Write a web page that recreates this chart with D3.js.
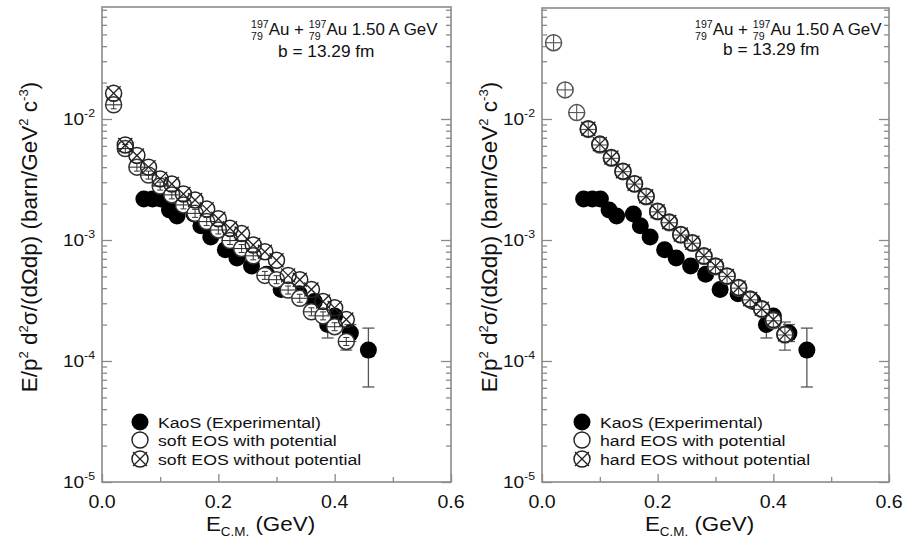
<!DOCTYPE html>
<html><head><meta charset="utf-8">
<script src="https://cdn.jsdelivr.net/npm/d3@7"></script>
<style>
body{margin:0;background:#fff}
svg{display:block}
text{font-family:"Liberation Sans",Arial,Helvetica,sans-serif;fill:#111}
</style>
</head><body>
<svg id="c" width="907" height="540"></svg>
<script>
// ---------------- data ----------------
const expE  = [0.072,0.087,0.101,0.116,0.129,0.158,0.170,0.187,0.212,0.232,0.257,0.283,0.308,0.339,0.365,0.388,0.400,0.427,0.458];
const expV  = [2.18e-3,2.18e-3,2.18e-3,1.77e-3,1.58e-3,1.64e-3,1.31e-3,1.06e-3,8.3e-4,7.1e-4,6.1e-4,5.2e-4,3.9e-4,3.6e-4,3.1e-4,2.0e-4,2.35e-4,1.7e-4,1.23e-4];
const expLo = [2.05e-3,2.05e-3,2.05e-3,1.66e-3,1.48e-3,1.54e-3,1.23e-3,0.99e-3,7.8e-4,6.6e-4,5.7e-4,4.8e-4,3.6e-4,3.3e-4,2.8e-4,1.55e-4,2.1e-4,1.45e-4,6.1e-5];
const expHi = [2.31e-3,2.31e-3,2.31e-3,1.88e-3,1.68e-3,1.74e-3,1.39e-3,1.13e-3,8.8e-4,7.6e-4,6.5e-4,5.6e-4,4.2e-4,3.9e-4,3.4e-4,2.4e-4,2.6e-4,2.0e-4,1.87e-4];

const simE = [0.02,0.04,0.06,0.08,0.10,0.12,0.14,0.16,0.18,0.20,0.22,0.24,0.26,0.28,0.30,0.32,0.34,0.36,0.38,0.40,0.42];
const softWith    = [1.31e-2,5.7e-3,4.0e-3,3.44e-3,2.79e-3,2.36e-3,1.95e-3,1.66e-3,1.42e-3,1.21e-3,9.9e-4,8.5e-4,7.4e-4,5.1e-4,4.7e-4,3.86e-4,3.3e-4,2.55e-4,2.36e-4,1.92e-4,1.45e-4];
const softWithLo  = [null,null,null,null,null,null,null,null,null,null,null,null,null,null,null,null,null,null,null,null,1.23e-4];
const softWithout = [1.63e-2,6.1e-3,5.0e-3,4.0e-3,3.2e-3,2.9e-3,2.4e-3,2.14e-3,1.8e-3,1.5e-3,1.25e-3,1.13e-3,9.1e-4,8.0e-4,6.8e-4,5.1e-4,4.7e-4,3.9e-4,3.1e-4,2.75e-4,2.2e-4];
const hardWith    = [4.27e-2,1.74e-2,1.13e-2,8.2e-3,6.1e-3,4.73e-3,3.67e-3,2.9e-3,2.28e-3,1.71e-3,1.39e-3,1.10e-3,9.4e-4,7.3e-4,6.0e-4,5.0e-4,4.0e-4,3.2e-4,2.67e-4,2.15e-4,1.64e-4];
const hardWithLo  = [null,null,null,null,null,null,null,null,null,null,null,null,null,null,null,null,null,null,null,null,1.23e-4];
const hardWithHi  = [null,null,null,null,null,null,null,null,null,null,null,null,null,null,null,null,null,null,null,null,2.1e-4];
const hardWithout = [null,null,null,8.3e-3,6.2e-3,4.8e-3,3.7e-3,2.92e-3,2.3e-3,1.73e-3,1.41e-3,1.11e-3,9.5e-4,7.4e-4,6.1e-4,5.05e-4,4.05e-4,3.25e-4,2.7e-4,2.2e-4,1.66e-4];

const xMajorTicks = [0,0.2,0.4,0.6];
const xMinorTicks = [0.1,0.3,0.5];
const xTickLabels = ["0.0","0.2","0.4","0.6"];
const yMajorTicks = [1e-5,1e-4,1e-3,1e-2];
const yTickExps   = ["-5","-4","-3","-2"];

const legendSoft = ["KaoS (Experimental)","soft EOS with potential","soft EOS without potential"];
const legendHard = ["KaoS (Experimental)","hard EOS with potential","hard EOS without potential"];
const annoLine2 = "b = 13.29 fm";

// ---------------- drawing ----------------
const svg = d3.select("#c");
const FRAME = "#8a8a8a";
const SX = 1.12; // horizontal stretch of the reference lettering

function filled(g){ g.append("circle").attr("r",8.5).attr("fill","#000"); }
function openSym(g, col, plus){
  g.append("circle").attr("r",8).attr("fill","#fff").attr("stroke",col).attr("stroke-width",1.5);
  g.append("line").attr("x1",-8).attr("x2",8).attr("stroke",col).attr("stroke-width",1.1);
  if(plus){ g.append("line").attr("y1",-8).attr("y2",8).attr("stroke",col).attr("stroke-width",1.1); }
  else {
    g.append("line").attr("y1",-4).attr("y2",4).attr("stroke",col).attr("stroke-width",1);
    [-4,4].forEach(v=>g.append("line").attr("x1",-3).attr("x2",3).attr("y1",v).attr("y2",v).attr("stroke",col).attr("stroke-width",1));
  }
}
function crossSym(g, col, fill){
  g.append("circle").attr("r",8).attr("fill",fill||"none").attr("stroke",col).attr("stroke-width",1.5);
  g.append("line").attr("x1",-7).attr("y1",-7).attr("x2",7).attr("y2",7).attr("stroke",col).attr("stroke-width",1.3);
  g.append("line").attr("x1",-7).attr("y1",7).attr("x2",7).attr("y2",-7).attr("stroke",col).attr("stroke-width",1.3);
}

function richText(g, x, y, size, parts, anchor, sx){
  const h = g.append("g").attr("transform",`translate(${x},${y}) scale(${sx||1},1)`);
  const t = h.append("text").attr("x",0).attr("y",0).attr("font-size",size);
  if(anchor) t.attr("text-anchor",anchor);
  parts.forEach(p=>{
    const s = t.append("tspan").text(p.t);
    if(p.fs) s.attr("font-size",p.fs);
    if(p.dy) s.attr("dy",p.dy);
    if(p.dx) s.attr("dx",p.dx);
  });
  return t;
}

function panel(cfg){
  const g = svg.append("g");
  const x = d3.scaleLinear().domain([0,0.6]).range([cfg.x0,cfg.x1]);
  const y = d3.scaleLog().domain([1e-5,1e-1]).range([482,-2]);

  // frame
  g.append("rect").attr("x",cfg.x0).attr("y",cfg.y0).attr("width",cfg.x1-cfg.x0).attr("height",482-cfg.y0)
    .attr("fill","none").attr("stroke",FRAME).attr("stroke-width",1.6);

  const minor=[];
  yMajorTicks.forEach(d=>{for(let m=2;m<=9;m++){const v=m*d; if(y(v)>=cfg.y0+1) minor.push(v);}});
  const styleAx = s=>{ s.select(".domain").remove(); s.selectAll("line").attr("stroke",FRAME).attr("stroke-width",1.3); };
  g.append("g").attr("transform",`translate(${cfg.x0},0)`).call(d3.axisLeft(y).tickValues(minor).tickSize(-5).tickFormat("")).call(styleAx);
  g.append("g").attr("transform",`translate(${cfg.x0},0)`).call(d3.axisLeft(y).tickValues(yMajorTicks).tickSize(-10).tickFormat("")).call(styleAx);
  g.append("g").attr("transform",`translate(${cfg.x1},0)`).call(d3.axisRight(y).tickValues(minor).tickSize(-5).tickFormat("")).call(styleAx);
  g.append("g").attr("transform",`translate(${cfg.x1},0)`).call(d3.axisRight(y).tickValues(yMajorTicks).tickSize(-10).tickFormat("")).call(styleAx);
  g.append("g").attr("transform",`translate(0,482)`).call(d3.axisBottom(x).tickValues(xMinorTicks).tickSize(-5).tickFormat("")).call(styleAx);
  g.append("g").attr("transform",`translate(0,482)`).call(d3.axisBottom(x).tickValues(xMajorTicks).tickSize(-8).tickFormat("")).call(styleAx);

  // x tick labels
  xMajorTicks.forEach((v,i)=>{
    richText(g, x(v), 508, 17.5, [{t:xTickLabels[i]}], "middle", SX);
  });
  // y tick labels
  yMajorTicks.forEach((v,i)=>{
    richText(g, cfg.x0-7, y(v)+6, 17, [{t:"10"},{t:yTickExps[i],fs:11,dy:-8}], "end", SX);
  });

  // axis titles
  richText(g, (cfg.x0+cfg.x1)/2 - 16, 531, 20, [{t:"E"},{t:"C.M.",fs:12,dy:5},{t:" (GeV)",dy:-5}], "middle", SX);
  const yl = g.append("g").attr("transform",`translate(${cfg.ylx},237) rotate(-90)`);
  richText(yl, 0, 0, 22.5, [
    {t:"E/p"},{t:"2",fs:13,dy:-9},{t:" d",dy:9},{t:"2",fs:13,dy:-9},{t:"σ/(dΩdp) (barn/GeV",dy:9},
    {t:"2",fs:13,dy:-9},{t:" c",dy:9},{t:"-3",fs:13,dy:-9},{t:")",dy:9}], "middle", 1);

  // annotation
  const d = 0.556*10; // digit width at 10px
  richText(g, cfg.ax, cfg.ay1, 16, [
    {t:"197",fs:10,dy:-7},{t:"79",fs:10,dx:-3*d,dy:12},{t:"Au",dx:d,dy:-5},{t:" + "},
    {t:"197",fs:10,dy:-7},{t:"79",fs:10,dx:-3*d,dy:12},{t:"Au 1.50 A GeV",dx:d,dy:-5}], null, 1.06);
  richText(g, cfg.bx, cfg.ay2, 16, [{t:annoLine2}], null, 1.08);

  // experimental error bars + points
  const exp = expE.map((e,i)=>({e,v:expV[i],lo:expLo[i],hi:expHi[i]}));
  const eb = g.append("g").attr("stroke","#555").attr("stroke-width",1.3);
  exp.forEach(p=>{
    eb.append("line").attr("x1",x(p.e)).attr("x2",x(p.e)).attr("y1",y(p.lo)).attr("y2",y(p.hi));
    [p.lo,p.hi].forEach(v=>eb.append("line").attr("x1",x(p.e)-6).attr("x2",x(p.e)+6).attr("y1",y(v)).attr("y2",y(v)));
  });
  g.append("g").selectAll("g").data(exp).join("g")
    .attr("transform",p=>`translate(${x(p.e)},${y(p.v)})`).each(function(){filled(d3.select(this));});

  // with potential (open)
  const w = simE.map((e,i)=>({e,v:cfg.withV[i],lo:cfg.withLo?cfg.withLo[i]:null,hi:cfg.withHi?cfg.withHi[i]:null})).filter(p=>p.v!=null);
  const wb = g.append("g").attr("stroke","#555").attr("stroke-width",1.2);
  w.forEach(p=>{
    if(p.lo!=null){ wb.append("line").attr("x1",x(p.e)).attr("x2",x(p.e)).attr("y1",y(p.v)).attr("y2",y(p.lo));
      wb.append("line").attr("x1",x(p.e)-6).attr("x2",x(p.e)+6).attr("y1",y(p.lo)).attr("y2",y(p.lo)); }
    if(p.hi!=null){ wb.append("line").attr("x1",x(p.e)).attr("x2",x(p.e)).attr("y1",y(p.v)).attr("y2",y(p.hi));
      wb.append("line").attr("x1",x(p.e)-6).attr("x2",x(p.e)+6).attr("y1",y(p.hi)).attr("y2",y(p.hi)); }
  });
  g.append("g").selectAll("g").data(w).join("g")
    .attr("transform",p=>`translate(${x(p.e)},${y(p.v)})`).each(function(){openSym(d3.select(this),cfg.openCol,cfg.plus);});

  // without potential (crossed)
  const wo = simE.map((e,i)=>({e,v:cfg.withoutV[i]})).filter(p=>p.v!=null);
  g.append("g").selectAll("g").data(wo).join("g")
    .attr("transform",p=>`translate(${x(p.e)},${y(p.v)})`).each(function(){crossSym(d3.select(this),"#222");});

  // legend
  const lg = g.append("g");
  const rows=[422,440,459];
  filled(lg.append("g").attr("transform",`translate(${cfg.lx},${rows[0]})`));
  lg.append("g").attr("transform",`translate(${cfg.lx},${rows[1]})`).append("circle").attr("r",8).attr("fill","#fff").attr("stroke","#222").attr("stroke-width",1.4);
  crossSym(lg.append("g").attr("transform",`translate(${cfg.lx},${rows[2]})`),"#222","#fff");
  cfg.legend.forEach((t,i)=>richText(lg, cfg.lx+18, rows[i]+6, 15.5, [{t}], null, 1.14));
}

panel({x0:102,x1:451,y0:7,ylx:37,ax:251,ay1:35,bx:278,ay2:57,lx:140,legend:legendSoft,
       withV:softWith,withLo:softWithLo,withoutV:softWithout,openCol:"#333",plus:false});
panel({x0:542,x1:889,y0:8,ylx:497,ax:695,ay1:35,bx:723,ay2:55,lx:582,legend:legendHard,
       withV:hardWith,withLo:hardWithLo,withHi:hardWithHi,withoutV:hardWithout,openCol:"#555",plus:true});
</script>
</body></html>
